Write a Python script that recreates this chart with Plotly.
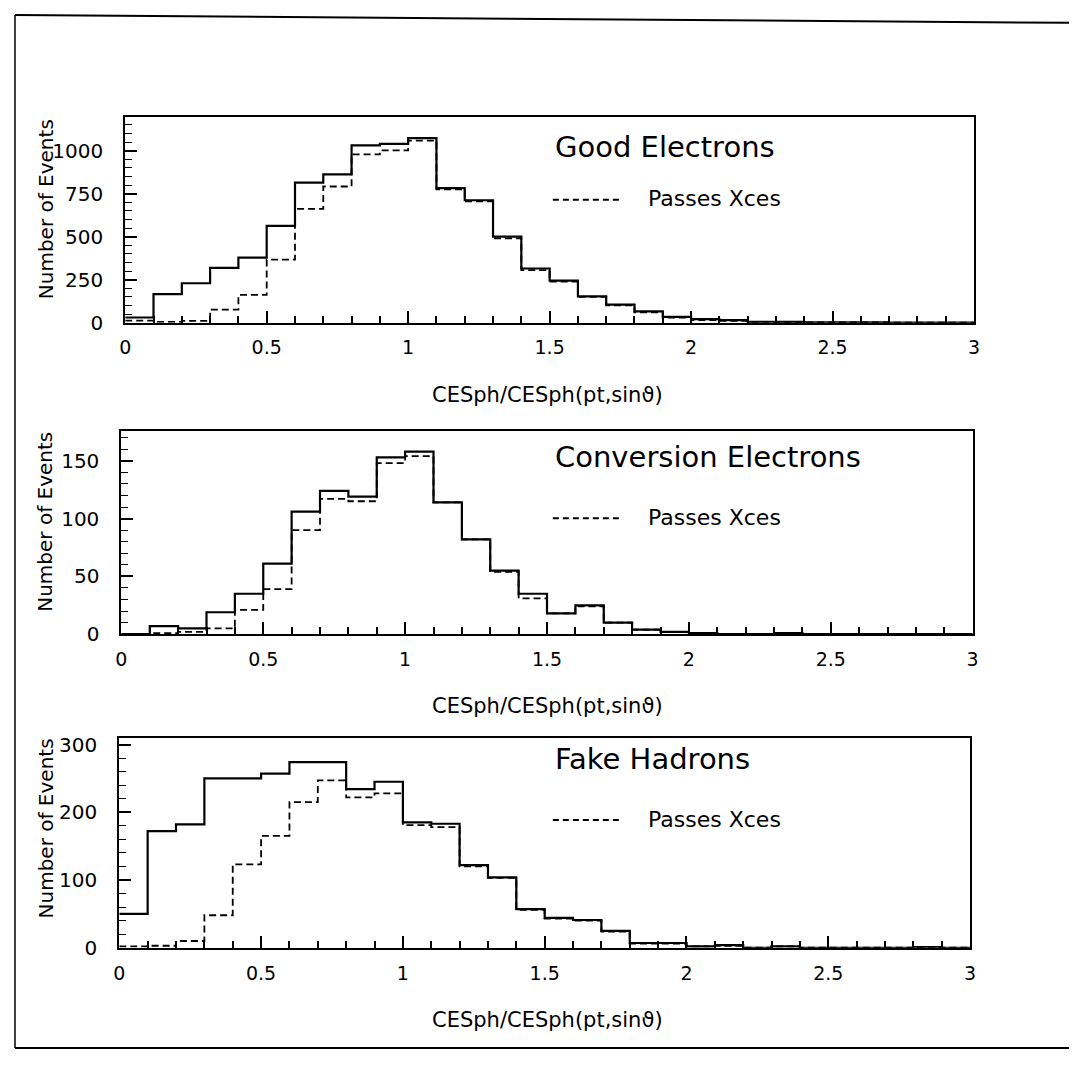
import numpy as np
import plotly.graph_objects as go

# Page is 1077x1069; the HTML body has an 8px margin, so the figure is made
# 16px smaller and every pixel position is shifted by 8.
PAGE_W, PAGE_H = 1077, 1069
OFF = 8
W, H = PAGE_W - 2 * OFF, PAGE_H - 2 * OFF

# ---------------- data ----------------
bin_edges = np.round(np.arange(0, 3.0001, 0.1), 2)

good_all = [30, 166, 229, 319, 378, 563, 815, 863, 1031, 1040, 1073, 782, 712, 500, 315,
            244, 153, 105, 65, 33, 20, 15, 5, 4, 2, 1, 1, 0, 0, 0]
good_xces = [12, 5, 10, 76, 162, 366, 662, 792, 979, 1002, 1059, 775, 705, 490, 305,
             238, 150, 100, 60, 30, 15, 10, 4, 3, 2, 1, 1, 0, 0, 0]

conv_all = [0, 7, 5, 19, 35, 61, 106, 124, 119, 153, 158, 114, 82, 55, 35,
            18, 25, 10, 4, 2, 1, 0, 0, 1, 0, 0, 0, 0, 0, 0]
conv_xces = [0, 1, 2, 5, 21, 39, 90, 117, 115, 148, 154, 114, 82, 54, 31,
             18, 24, 10, 4, 2, 1, 0, 0, 1, 0, 0, 0, 0, 0, 0]

fake_all = [50, 172, 182, 250, 250, 257, 274, 274, 234, 245, 185, 183, 122, 104, 57,
            44, 41, 25, 7, 7, 2, 4, 0, 2, 0, 0, 0, 0, 1, 0]
fake_xces = [2, 3, 10, 48, 123, 165, 215, 247, 222, 228, 181, 178, 120, 103, 56,
             43, 40, 24, 6, 6, 2, 3, 0, 2, 0, 0, 0, 0, 1, 0]

panel_titles = ["Good Electrons", "Conversion Electrons", "Fake Hadrons"]
legend_label = "Passes Xces"
x_title = "CESph/CESph(pt,sin\u03d1)"
y_title = "Number of Events"
x_tickvals = [0, 0.5, 1, 1.5, 2, 2.5, 3]
x_ticktext = ["0", "0.5", "1", "1.5", "2", "2.5", "3"]

# ---------------- layout geometry (page pixels) ----------------
panels = [
    dict(all=good_all, xces=good_xces, left=120.5, right=979, top=113, bottom=322,
         ymax=1195, dtick=250, minor=50, title_y=143, leg_y=196, ytitle_y=207, xtitle_y=396),
    dict(all=conv_all, xces=conv_xces, left=116.6, right=977.6, top=432, bottom=639,
         ymax=176, dtick=50, minor=10, title_y=459, leg_y=520, ytitle_y=525, xtitle_y=712),
    dict(all=fake_all, xces=fake_xces, left=114.5, right=975, top=745, bottom=958,
         ymax=309, dtick=100, minor=20, title_y=766, leg_y=827, ytitle_y=837, xtitle_y=1032),
]

FONT = "'DejaVu Sans', sans-serif"

def px(x):
    return (x - OFF) / W

def py(y):
    return 1 - (y - OFF) / H

fig = go.Figure()
annotations = []
shapes = []

for i, p in enumerate(panels):
    n = i + 1
    xa = "x" if n == 1 else f"x{n}"
    ya = "y" if n == 1 else f"y{n}"
    xs = list(bin_edges)
    ys_all = list(p["all"]) + [p["all"][-1]]
    ys_x = list(p["xces"]) + [p["xces"][-1]]
    fig.add_trace(go.Scatter(x=xs, y=ys_x, mode="lines", line_shape="hv",
                             line=dict(color="black", width=1.8, dash="7px,4px"),
                             xaxis=xa, yaxis=ya, showlegend=False, hoverinfo="skip"))
    fig.add_trace(go.Scatter(x=xs, y=ys_all, mode="lines", line_shape="hv",
                             line=dict(color="black", width=2.2),
                             xaxis=xa, yaxis=ya, showlegend=False, hoverinfo="skip"))

    xkey = "xaxis" if n == 1 else f"xaxis{n}"
    ykey = "yaxis" if n == 1 else f"yaxis{n}"
    fig.update_layout(**{
        xkey: dict(domain=[px(p["left"]), px(p["right"])], range=[0, 3], anchor=ya,
                   showline=True, linecolor="black", linewidth=2, mirror=True,
                   showgrid=False, zeroline=False,
                   ticks="inside", ticklen=12, tickwidth=1.5, tickcolor="black",
                   tickvals=x_tickvals, ticktext=x_ticktext,
                   ticklabelstandoff=7,
                   tickfont=dict(family=FONT, size=19, color="black"),
                   minor=dict(dtick=0.1, ticks="inside", ticklen=7, tickwidth=1.5,
                              tickcolor="black", showgrid=False)),
        ykey: dict(domain=[py(p["bottom"]), py(p["top"])], range=[0, p["ymax"]], anchor=xa,
                   showline=True, linecolor="black", linewidth=2, mirror=True,
                   showgrid=False, zeroline=False,
                   ticks="inside", ticklen=12, tickwidth=1.5, tickcolor="black",
                   dtick=p["dtick"], tick0=0,
                   ticklabelstandoff=16,
                   tickfont=dict(family=FONT, size=20, color="black"),
                   minor=dict(dtick=p["minor"], ticks="inside", ticklen=7, tickwidth=1.2,
                              tickcolor="black", showgrid=False)),
    })

    annotations.append(dict(text=panel_titles[i], x=px(553), y=py(p["title_y"]),
                            xref="paper", yref="paper", xanchor="left", yanchor="middle",
                            showarrow=False, font=dict(family=FONT, size=29, color="black")))
    annotations.append(dict(text=legend_label, x=px(647), y=py(p["leg_y"]),
                            xref="paper", yref="paper", xanchor="left", yanchor="middle",
                            showarrow=False, font=dict(family=FONT, size=22, color="black")))
    shapes.append(dict(type="line", xref="paper", yref="paper",
                       x0=px(553), x1=px(623), y0=py(p["leg_y"] + 1), y1=py(p["leg_y"] + 1),
                       line=dict(color="black", width=1.8, dash="6px,4px")))
    annotations.append(dict(text=y_title, x=px(40), y=py(p["ytitle_y"]),
                            xref="paper", yref="paper", xanchor="center", yanchor="middle",
                            textangle=-90, showarrow=False,
                            font=dict(family=FONT, size=20, color="black")))
    annotations.append(dict(text=x_title, x=px(548), y=py(p["xtitle_y"]),
                            xref="paper", yref="paper", xanchor="center", yanchor="middle",
                            showarrow=False, font=dict(family=FONT, size=21, color="black")))

# outer page frame (scanned border)
shapes.append(dict(type="line", xref="paper", yref="paper", x0=px(9), x1=px(1077),
                   y0=py(9), y1=py(17), line=dict(color="black", width=2)))
shapes.append(dict(type="line", xref="paper", yref="paper", x0=px(9), x1=px(9),
                   y0=py(9), y1=py(1060), line=dict(color="black", width=1.5)))
shapes.append(dict(type="line", xref="paper", yref="paper", x0=px(9), x1=px(1077),
                   y0=py(1060), y1=py(1060), line=dict(color="black", width=2)))

fig.update_layout(width=W, height=H, margin=dict(l=0, r=0, t=0, b=0),
                  paper_bgcolor="white", plot_bgcolor="white",
                  annotations=annotations, shapes=shapes, showlegend=False,
                  font=dict(family=FONT, color="black"))

fig.write_html("out.html")
